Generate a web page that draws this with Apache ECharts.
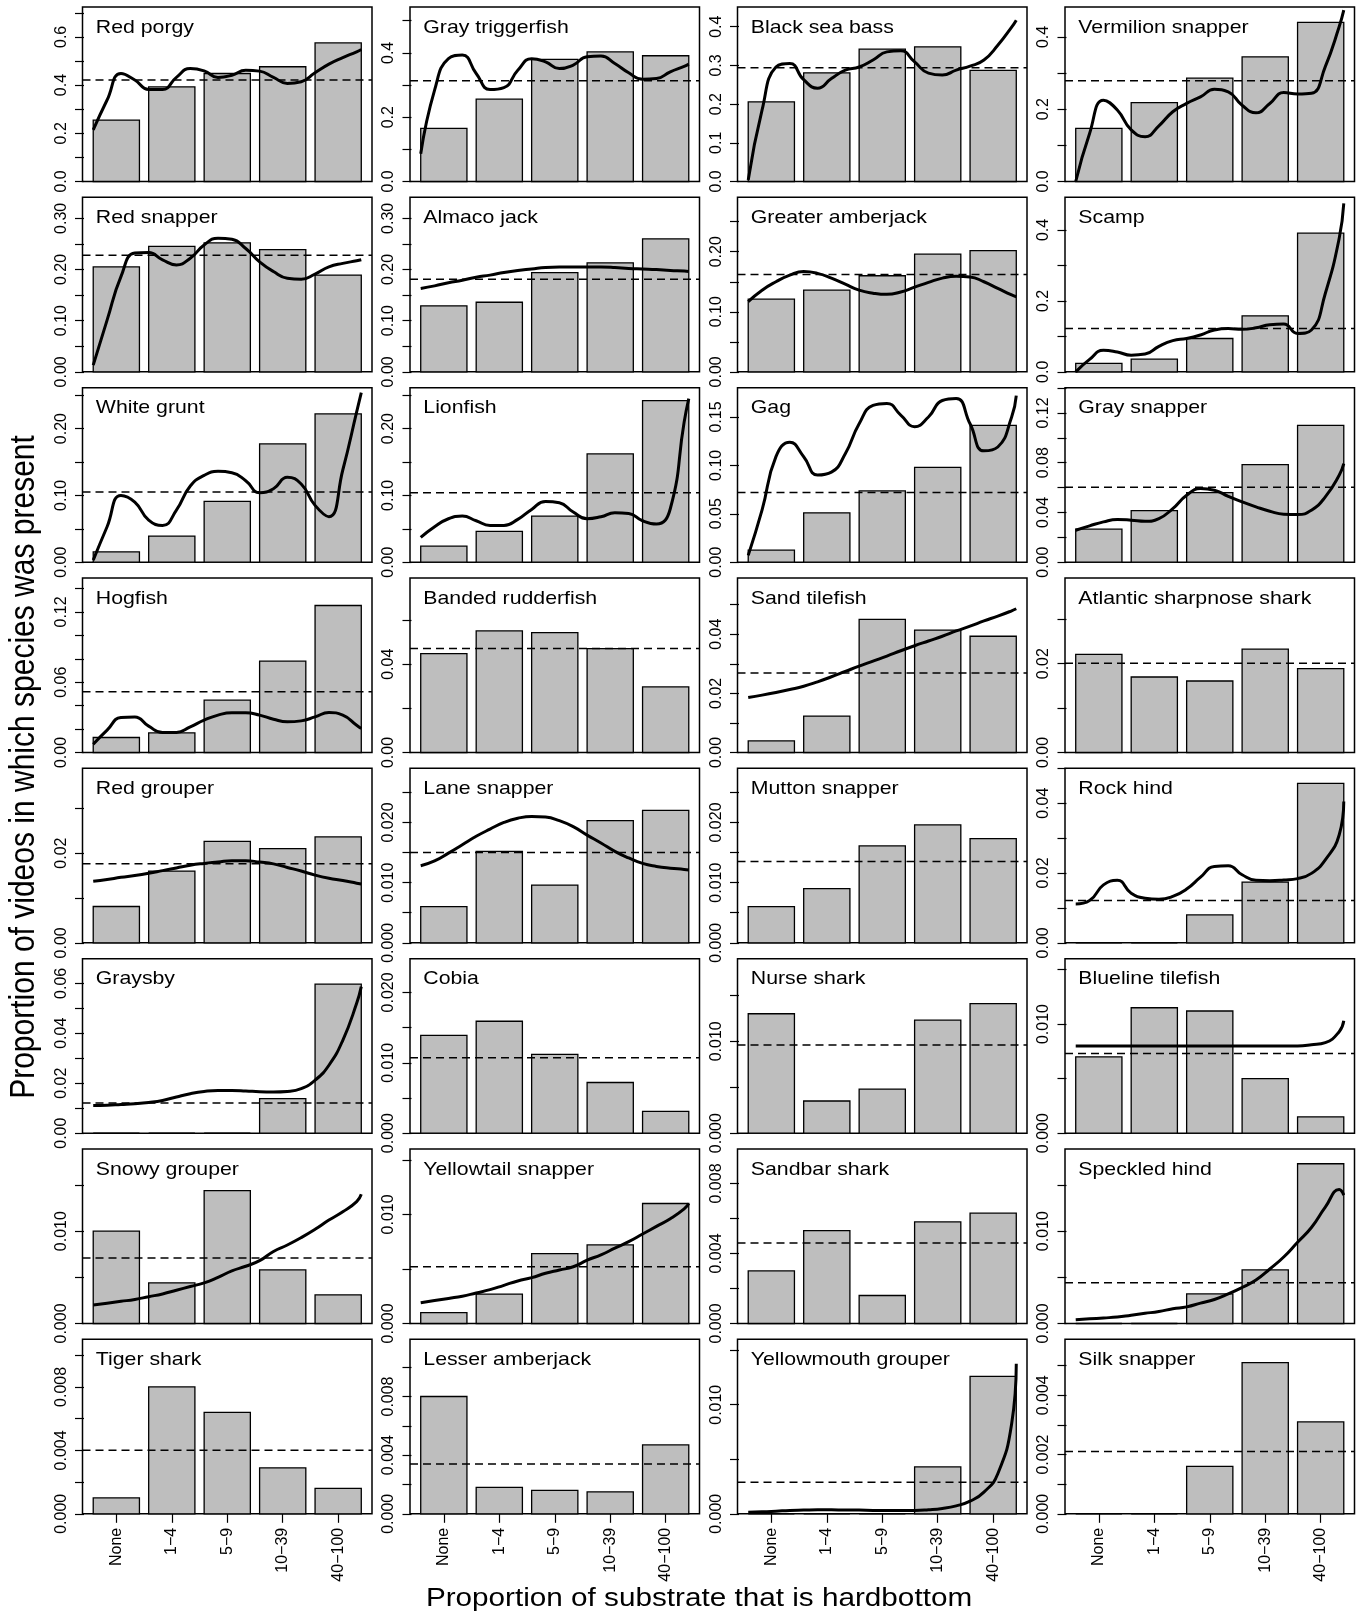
<!DOCTYPE html>
<html>
<head>
<meta charset="utf-8">
<script src="https://cdn.jsdelivr.net/npm/echarts@6/dist/echarts.min.js"></script>
<style>
html, body { margin: 0; padding: 0; background: #fff; }
#chart { width: 1362px; height: 1615px; }
</style>
</head>
<body>
<div id="chart"></div>
<script>
// Species shown, one panel each, read left-to-right, top-to-bottom
const speciesNames = [
  'Red porgy', 'Gray triggerfish', 'Black sea bass', 'Vermilion snapper',
  'Red snapper', 'Almaco jack', 'Greater amberjack', 'Scamp',
  'White grunt', 'Lionfish', 'Gag', 'Gray snapper',
  'Hogfish', 'Banded rudderfish', 'Sand tilefish', 'Atlantic sharpnose shark',
  'Red grouper', 'Lane snapper', 'Mutton snapper', 'Rock hind',
  'Graysby', 'Cobia', 'Nurse shark', 'Blueline tilefish',
  'Snowy grouper', 'Yellowtail snapper', 'Sandbar shark', 'Speckled hind',
  'Tiger shark', 'Lesser amberjack', 'Yellowmouth grouper', 'Silk snapper'
];

// Hardbottom classes (percent of substrate)
const hardbottomClasses = ['None', '1\u22124', '5\u22129', '10\u221239', '40\u2212100'];

// Proportion of videos with the species present, per hardbottom class
const barValues = [
  [0.255, 0.393, 0.448, 0.476, 0.575],
  [0.165, 0.256, 0.380, 0.403, 0.391],
  [0.206, 0.281, 0.342, 0.348, 0.287],
  [0.147, 0.218, 0.286, 0.345, 0.440],
  [0.205, 0.245, 0.252, 0.239, 0.189],
  [0.129, 0.136, 0.194, 0.213, 0.260],
  [0.121, 0.136, 0.160, 0.196, 0.202],
  [0.024, 0.036, 0.094, 0.158, 0.391],
  [0.0155, 0.039, 0.091, 0.177, 0.222],
  [0.024, 0.046, 0.069, 0.162, 0.242],
  [0.0124, 0.051, 0.0736, 0.098, 0.1414],
  [0.0265, 0.0415, 0.056, 0.0785, 0.110],
  [0.0128, 0.0168, 0.0447, 0.078, 0.1255],
  [0.0448, 0.0551, 0.0543, 0.0471, 0.0297],
  [0.0039, 0.0123, 0.045, 0.0414, 0.0393],
  [0.0221, 0.017, 0.0161, 0.0233, 0.0189],
  [0.0081, 0.016, 0.0226, 0.021, 0.0236],
  [0.006, 0.0152, 0.0096, 0.0203, 0.022],
  [0.006, 0.009, 0.0161, 0.0196, 0.0173],
  [0, 0, 0.008, 0.0174, 0.0457],
  [0, 0, 0, 0.0138, 0.0597],
  [0.0139, 0.0159, 0.0112, 0.0072, 0.0031],
  [0.013, 0.0035, 0.0048, 0.0123, 0.0141],
  [0.007, 0.0115, 0.0112, 0.005, 0.0015],
  [0.01, 0.0044, 0.0144, 0.0058, 0.0031],
  [0.001, 0.0027, 0.0064, 0.0072, 0.011],
  [0.003, 0.0053, 0.0016, 0.0058, 0.0063],
  [0, 0, 0.0032, 0.0058, 0.0173],
  [0.001, 0.008, 0.0064, 0.0029, 0.0016],
  [0.008, 0.0018, 0.0016, 0.0015, 0.0047],
  [0, 0, 0, 0.0043, 0.0126],
  [0, 0, 0.0016, 0.0051, 0.0031]
];

// Overall proportion across all videos (dashed reference line)
const meanValues = [
  0.421, 0.313, 0.294, 0.279,
  0.228, 0.181, 0.162, 0.122,
  0.105, 0.104, 0.0719, 0.0603,
  0.0518, 0.0471, 0.0269, 0.0201,
  0.0176, 0.015, 0.0135, 0.0121,
  0.0121, 0.0107, 0.0096, 0.0073,
  0.0071, 0.0052, 0.0046, 0.0044,
  0.004, 0.0034, 0.0029, 0.0021
];

// Upper limit of each panel's y range
const axisMax = [
  0.724, 0.5426, 0.451, 0.4828,
  0.341, 0.341, 0.2906, 0.492,
  0.2613, 0.2613, 0.1803, 0.1404,
  0.149, 0.0791, 0.059, 0.0393,
  0.0389, 0.029, 0.029, 0.05,
  0.0699, 0.0248, 0.019, 0.016,
  0.0189, 0.016, 0.00997, 0.0189,
  0.011, 0.0119, 0.016, 0.00589
];

// Spacing of y tick marks
const tickStep = [
  0.1, 0.1, 0.1, 0.1,
  0.05, 0.05, 0.05, 0.1,
  0.05, 0.05, 0.05, 0.02,
  0.02, 0.02, 0.01, 0.01,
  0.01, 0.005, 0.005, 0.01,
  0.01, 0.005, 0.005, 0.005,
  0.005, 0.005, 0.002, 0.005,
  0.002, 0.002, 0.005, 0.001
];

// Labelled y ticks
const tickLabels = [
  ['0.0', '0.2', '0.4', '0.6'],
  ['0.0', '0.2', '0.4'],
  ['0.0', '0.1', '0.2', '0.3', '0.4'],
  ['0.0', '0.2', '0.4'],
  ['0.00', '0.10', '0.20', '0.30'],
  ['0.00', '0.10', '0.20', '0.30'],
  ['0.00', '0.10', '0.20'],
  ['0.0', '0.2', '0.4'],
  ['0.00', '0.10', '0.20'],
  ['0.00', '0.10', '0.20'],
  ['0.00', '0.05', '0.10', '0.15'],
  ['0.00', '0.04', '0.08', '0.12'],
  ['0.00', '0.06', '0.12'],
  ['0.00', '0.04'],
  ['0.00', '0.02', '0.04'],
  ['0.00', '0.02'],
  ['0.00', '0.02'],
  ['0.000', '0.010', '0.020'],
  ['0.000', '0.010', '0.020'],
  ['0.00', '0.02', '0.04'],
  ['0.00', '0.02', '0.04', '0.06'],
  ['0.000', '0.010', '0.020'],
  ['0.000', '0.010'],
  ['0.000', '0.010'],
  ['0.000', '0.010'],
  ['0.000', '0.010'],
  ['0.000', '0.004', '0.008'],
  ['0.000', '0.010'],
  ['0.000', '0.004', '0.008'],
  ['0.000', '0.004', '0.008'],
  ['0.000', '0.010'],
  ['0.000', '0.002', '0.004']
];

// Positions (in bar units) where the smoothed fits are sampled
const curveX = [0.2, 0.5, 0.8, 1.1, 1.4, 1.7, 2.0, 2.3, 2.6, 2.9, 3.2, 3.5, 3.8, 4.1, 4.4, 4.7, 5.0, 5.3, 5.6, 5.9, 6.0];

// Smoothed fit of presence against percent hardbottom (null: no fit shown)
const smoothedFits = [
  [0.214, 0.338, 0.448, 0.421, 0.382, 0.382, 0.432, 0.469, 0.459, 0.432, 0.441, 0.462, 0.458, 0.432, 0.407, 0.414, 0.451, 0.487, 0.514, 0.538, 0.548],
  [0.086, 0.284, 0.382, 0.393, 0.336, 0.286, 0.292, 0.346, 0.382, 0.372, 0.351, 0.362, 0.388, 0.390, 0.367, 0.338, 0.318, 0.320, 0.341, 0.358, 0.365],
  [0.004, 0.185, 0.296, 0.305, 0.263, 0.241, 0.266, 0.288, 0.296, 0.314, 0.335, 0.338, 0.309, 0.280, 0.275, 0.288, 0.298, 0.314, 0.352, 0.399, 0.417],
  [0.0, 0.133, 0.225, 0.198, 0.143, 0.124, 0.154, 0.193, 0.216, 0.234, 0.255, 0.248, 0.211, 0.190, 0.216, 0.246, 0.242, 0.244, 0.318, 0.428, 0.474],
  [0.013, 0.101, 0.186, 0.232, 0.233, 0.219, 0.209, 0.222, 0.248, 0.261, 0.259, 0.241, 0.215, 0.196, 0.183, 0.181, 0.191, 0.205, 0.212, 0.217, 0.219],
  [0.163, 0.168, 0.174, 0.179, 0.185, 0.189, 0.194, 0.198, 0.201, 0.204, 0.205, 0.205, 0.205, 0.205, 0.204, 0.202, 0.201, 0.200, 0.198, 0.197, 0.196],
  [0.117, 0.136, 0.150, 0.161, 0.167, 0.164, 0.156, 0.146, 0.136, 0.131, 0.129, 0.133, 0.141, 0.149, 0.156, 0.159, 0.158, 0.150, 0.139, 0.128, 0.125],
  [0.0, 0.035, 0.061, 0.056, 0.047, 0.050, 0.072, 0.088, 0.094, 0.104, 0.118, 0.122, 0.120, 0.124, 0.133, 0.135, 0.108, 0.118, 0.221, 0.376, 0.475],
  [0.003, 0.053, 0.100, 0.090, 0.063, 0.055, 0.078, 0.114, 0.130, 0.136, 0.134, 0.122, 0.104, 0.110, 0.127, 0.117, 0.085, 0.068, 0.138, 0.225, 0.254],
  [0.037, 0.053, 0.065, 0.069, 0.062, 0.055, 0.055, 0.064, 0.079, 0.091, 0.089, 0.075, 0.065, 0.068, 0.074, 0.073, 0.062, 0.057, 0.080, 0.210, 0.245],
  [0.007, 0.054, 0.109, 0.124, 0.109, 0.090, 0.093, 0.112, 0.143, 0.162, 0.164, 0.152, 0.140, 0.150, 0.167, 0.169, 0.143, 0.115, 0.119, 0.150, 0.172],
  [0.0257, 0.0292, 0.0324, 0.0343, 0.0338, 0.0329, 0.0351, 0.0431, 0.0538, 0.0592, 0.0579, 0.0530, 0.0485, 0.0445, 0.0410, 0.0386, 0.0383, 0.0418, 0.0525, 0.0699, 0.0793],
  [0.0071, 0.0191, 0.0299, 0.0304, 0.0225, 0.0171, 0.0171, 0.0219, 0.0276, 0.0319, 0.0339, 0.0339, 0.0319, 0.0284, 0.0262, 0.0270, 0.0304, 0.0341, 0.0319, 0.0233, 0.0205],
  null,
  [0.0186, 0.0194, 0.0203, 0.0213, 0.0224, 0.0239, 0.0256, 0.0274, 0.0292, 0.0309, 0.0326, 0.0344, 0.0361, 0.0377, 0.0393, 0.0411, 0.0427, 0.0445, 0.0461, 0.0479, 0.0486],
  null,
  [0.0137, 0.0141, 0.0146, 0.0150, 0.0155, 0.0161, 0.0167, 0.0173, 0.0177, 0.0180, 0.0183, 0.0183, 0.0180, 0.0176, 0.0168, 0.0160, 0.0151, 0.0144, 0.0139, 0.0133, 0.0131],
  [0.0128, 0.0136, 0.0149, 0.0163, 0.0177, 0.0189, 0.0200, 0.0207, 0.0210, 0.0209, 0.0203, 0.0193, 0.0179, 0.0166, 0.0152, 0.0141, 0.0132, 0.0127, 0.0124, 0.0122, 0.0121],
  null,
  [0.0111, 0.0121, 0.0166, 0.0179, 0.0142, 0.0128, 0.0125, 0.0133, 0.0154, 0.0188, 0.0219, 0.0221, 0.0195, 0.0179, 0.0178, 0.0180, 0.0184, 0.0199, 0.0238, 0.0309, 0.0405],
  [0.0111, 0.0112, 0.0115, 0.0118, 0.0123, 0.0131, 0.0145, 0.0158, 0.0167, 0.0171, 0.0171, 0.0169, 0.0166, 0.0165, 0.0167, 0.0178, 0.0212, 0.0272, 0.0372, 0.0520, 0.0587],
  null,
  null,
  [0.0080, 0.0080, 0.0080, 0.0080, 0.0080, 0.0080, 0.0080, 0.0080, 0.0080, 0.0080, 0.0080, 0.0080, 0.0080, 0.0080, 0.0080, 0.0080, 0.0080, 0.0081, 0.0083, 0.0093, 0.0103],
  [0.0020, 0.0022, 0.0024, 0.0026, 0.0029, 0.0032, 0.0036, 0.0040, 0.0044, 0.0050, 0.0057, 0.0062, 0.0068, 0.0078, 0.0085, 0.0093, 0.0102, 0.0112, 0.0121, 0.0132, 0.0140],
  [0.0019, 0.0021, 0.0023, 0.0025, 0.0028, 0.0031, 0.0035, 0.0039, 0.0042, 0.0046, 0.0049, 0.0052, 0.0058, 0.0063, 0.0069, 0.0075, 0.0082, 0.0089, 0.0096, 0.0105, 0.0110],
  null,
  [0.0004, 0.0005, 0.0006, 0.0007, 0.0009, 0.0011, 0.0013, 0.0016, 0.0018, 0.0022, 0.0026, 0.0032, 0.0039, 0.0047, 0.0059, 0.0072, 0.0088, 0.0104, 0.0126, 0.0145, 0.0139],
  null,
  null,
  [0.00015, 0.00018, 0.00024, 0.00031, 0.00034, 0.00037, 0.00037, 0.00034, 0.00034, 0.00031, 0.00031, 0.00031, 0.00031, 0.00037, 0.00049, 0.00073, 0.00116, 0.00199, 0.00367, 0.00826, 0.01376],
  null
];

// ---- layout of the 8 x 4 panel grid ----
const FONT = '"Liberation Sans", Arial, Helvetica, sans-serif';
const COLS = 4;
const PANEL_LEFT = 82.5, PANEL_STEP_X = 327.5, PANEL_W = 289.5;
const PANEL_TOP = 7, PANEL_STEP_Y = 190.33, PANEL_H = 174.5;
// barplot geometry: unit-wide bars separated by 0.2, range padded 4% each side
const X_MIN = -0.032, X_MAX = 6.232;
const barLeft = i => 0.2 + 1.2 * i;
const barCenters = hardbottomClasses.map((_, i) => 0.7 + 1.2 * i);
const lastRow = Math.floor((speciesNames.length - 1) / COLS);

const grids = [], xAxes = [], yAxes = [], series = [], graphics = [];

speciesNames.forEach((name, k) => {
  const row = Math.floor(k / COLS), col = k % COLS;
  const left = PANEL_LEFT + col * PANEL_STEP_X;
  const top = PANEL_TOP + row * PANEL_STEP_Y;
  const isBottom = row === lastRow;

  grids.push({
    left: left, top: top, width: PANEL_W, height: PANEL_H,
    show: true, borderColor: '#000', borderWidth: 1.5, backgroundColor: 'transparent',
    containLabel: false, outerBoundsMode: 'none'
  });

  xAxes.push({
    type: 'value', gridIndex: k, min: X_MIN, max: X_MAX,
    axisLine: { show: false }, splitLine: { show: false },
    axisTick: isBottom
      ? { show: true, length: 9, lineStyle: { color: '#000', width: 1.2 }, customValues: barCenters }
      : { show: false },
    axisLabel: isBottom
      ? {
          show: true, rotate: 90, margin: 14, fontSize: 16, fontFamily: FONT, color: '#000',
          customValues: barCenters,
          formatter: v => hardbottomClasses[Math.round((v - 0.7) / 1.2)]
        }
      : { show: false }
  });

  const step = tickStep[k];
  const tickVals = [];
  for (let j = 0; j * step <= axisMax[k] + 1e-12; j++) tickVals.push(+(j * step).toFixed(6));
  const labelVals = tickLabels[k].map(Number);

  yAxes.push({
    type: 'value', gridIndex: k, min: 0, max: axisMax[k],
    axisLine: { show: false }, splitLine: { show: false },
    axisTick: { show: true, length: 9, lineStyle: { color: '#000', width: 1.2 }, customValues: tickVals },
    axisLabel: {
      show: true, rotate: 90, margin: 13, fontSize: 16, fontFamily: FONT, color: '#000',
      customValues: labelVals,
      formatter: v => {
        let best = 0;
        labelVals.forEach((t, j) => { if (Math.abs(t - v) < Math.abs(labelVals[best] - v)) best = j; });
        return tickLabels[k][best];
      }
    }
  });

  // bars
  series.push({
    type: 'custom', xAxisIndex: k, yAxisIndex: k, z: 2, silent: true, animation: false,
    data: barValues[k].map((v, i) => [i, v]),
    renderItem: (params, api) => {
      const i = api.value(0), v = api.value(1);
      const p0 = api.coord([barLeft(i), v]);
      const p1 = api.coord([barLeft(i) + 1, 0]);
      return {
        type: 'rect',
        shape: { x: p0[0], y: p0[1], width: p1[0] - p0[0], height: p1[1] - p0[1] },
        style: { fill: '#bebebe', stroke: '#000', lineWidth: 1.3 }
      };
    }
  });

  // overall proportion (dashed)
  series.push({
    type: 'line', xAxisIndex: k, yAxisIndex: k, z: 3, silent: true, animation: false,
    data: [[X_MIN, meanValues[k]], [X_MAX, meanValues[k]]],
    symbol: 'none', lineStyle: { color: '#000', width: 1.5, type: [8, 5] }
  });

  // smoothed fit
  if (smoothedFits[k]) {
    series.push({
      type: 'line', xAxisIndex: k, yAxisIndex: k, z: 4, silent: true, animation: false,
      data: curveX.map((x, j) => [x, smoothedFits[k][j]]),
      symbol: 'none', smooth: 0.5,
      lineStyle: { color: '#000', width: 3 }
    });
  }

  // panel title
  graphics.push({
    type: 'text', x: left + 13.3, y: top + 20.7, scaleX: 1.15, silent: true,
    style: { text: name, fontSize: 18.5, fontFamily: FONT, fill: '#000', align: 'left', verticalAlign: 'middle' }
  });
});

// shared axis titles
graphics.push({
  type: 'text', x: 699, y: 1599, scaleX: 1.16, silent: true,
  style: {
    text: 'Proportion of substrate that is hardbottom',
    fontSize: 25.6, fontFamily: FONT, fill: '#000', align: 'center', verticalAlign: 'middle'
  }
});
graphics.push({
  type: 'text', x: 24, y: 767, rotation: Math.PI / 2, scaleY: 1.16, silent: true,
  style: {
    text: 'Proportion of videos in which species was present',
    fontSize: 30, fontFamily: FONT, fill: '#000', align: 'center', verticalAlign: 'middle'
  }
});

const chart = echarts.init(document.getElementById('chart'), null, { renderer: 'canvas' });
chart.setOption({
  backgroundColor: '#fff',
  animation: false,
  grid: grids,
  xAxis: xAxes,
  yAxis: yAxes,
  series: series,
  graphic: graphics
});
</script>
</body>
</html>
